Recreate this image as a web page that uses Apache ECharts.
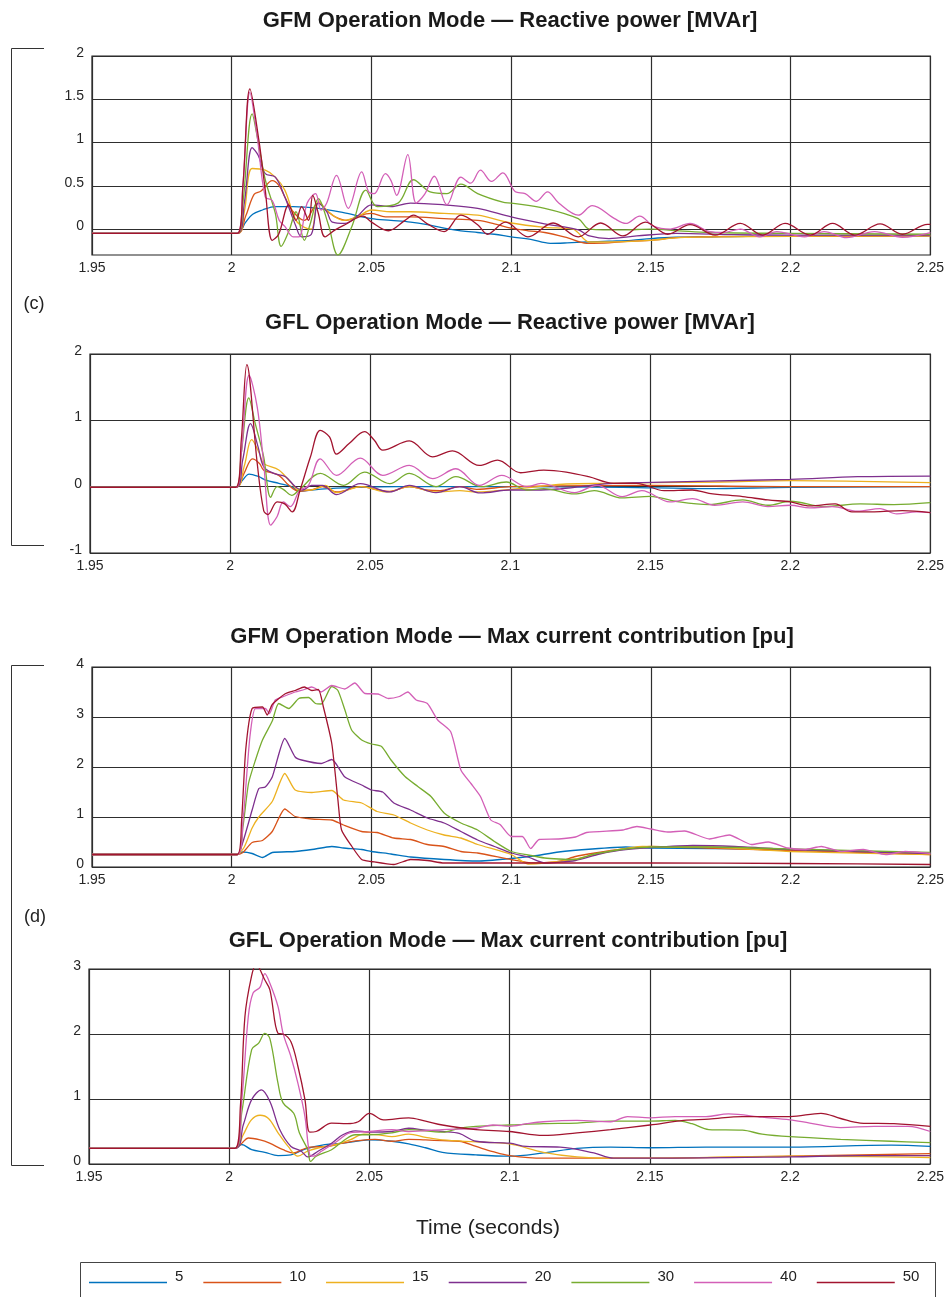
<!DOCTYPE html>
<html>
<head>
<meta charset="utf-8">
<script src="https://cdn.jsdelivr.net/npm/echarts@6/dist/echarts.min.js"></script>
<style>html,body{margin:0;padding:0;background:#fff}#c{width:947px;height:1297px}</style>
</head>
<body>
<div id="c"></div>
<script>
// ---------- categories / ticks ----------
const seriesNames = ['5', '10', '15', '20', '30', '40', '50'];
const xTicks = [1.95, 2, 2.05, 2.1, 2.15, 2.2, 2.25];
const yTicksGfmQ = [0, 0.5, 1, 1.5, 2];
const yTicksGflQ = [-1, 0, 1, 2];
const yTicksGfmI = [0, 1, 2, 3, 4];
const yTicksGflI = [0, 1, 2, 3];

// ---------- GFM reactive power [MVAr] ----------
const gfmQ5 = [[1.95,-0.05],[2.002,-0.05],[2.005,0.08],[2.0075,0.17],[2.011,0.22],[2.0156,0.26],[2.022,0.26],[2.031,0.24],[2.04,0.19],[2.05,0.12],[2.057,0.1],[2.064,0.08],[2.07,0.05],[2.076,0.01],[2.082,-0.02],[2.088,-0.04],[2.094,-0.06],[2.1,-0.09],[2.107,-0.12],[2.114,-0.165],[2.12,-0.16],[2.127,-0.15],[2.135,-0.14],[2.143,-0.13],[2.15,-0.11],[2.159,-0.095],[2.171,-0.09],[2.185,-0.085],[2.2,-0.085],[2.225,-0.08],[2.25,-0.08]];
const gfmQ10 = [[1.95,-0.05],[2.002,-0.05],[2.005,0.15],[2.008,0.4],[2.0105,0.44],[2.0145,0.56],[2.017,0.5],[2.019,0.37],[2.022,0.2],[2.026,0.1],[2.031,0.3],[2.0345,0.2],[2.037,0.14],[2.041,0.1],[2.046,0.16],[2.05,0.18],[2.055,0.14],[2.064,0.14],[2.076,0.12],[2.088,0.1],[2.094,0.06],[2.1,0.01],[2.106,-0.02],[2.112,-0.04],[2.12,-0.1],[2.127,-0.165],[2.135,-0.16],[2.143,-0.14],[2.15,-0.13],[2.159,-0.1],[2.17,-0.09],[2.185,-0.085],[2.2,-0.085],[2.25,-0.08]];
const gfmQ15 = [[1.95,-0.05],[2.002,-0.05],[2.0045,0.2],[2.0073,0.7],[2.012,0.68],[2.0156,0.6],[2.019,0.45],[2.023,0.1],[2.026,0.02],[2.0285,0.0],[2.031,0.32],[2.0346,0.2],[2.04,0.1],[2.045,0.14],[2.05,0.22],[2.057,0.2],[2.064,0.2],[2.076,0.18],[2.088,0.16],[2.1,0.07],[2.112,0.02],[2.122,0.0],[2.128,-0.15],[2.135,-0.15],[2.15,-0.13],[2.16,-0.1],[2.171,-0.09],[2.2,-0.085],[2.25,-0.08]];
const gfmQ20 = [[1.95,-0.05],[2.002,-0.05],[2.0045,0.3],[2.0073,0.94],[2.0095,0.85],[2.012,0.64],[2.0156,0.6],[2.019,0.37],[2.023,0.03],[2.025,-0.09],[2.0285,-0.06],[2.031,0.3],[2.034,0.2],[2.036,0.08],[2.0405,0.065],[2.045,0.15],[2.05,0.28],[2.057,0.26],[2.064,0.3],[2.076,0.28],[2.088,0.24],[2.1,0.14],[2.112,0.06],[2.124,-0.01],[2.128,-0.08],[2.135,-0.11],[2.145,-0.08],[2.159,-0.05],[2.18,-0.065],[2.2,-0.07],[2.25,-0.07]];
const gfmQ30 = [[1.95,-0.05],[2.002,-0.05],[2.004,0.3],[2.0073,1.33],[2.0095,1.0],[2.012,0.57],[2.0156,0.18],[2.0177,-0.2],[2.0205,-0.02],[2.023,0.2],[2.026,-0.13],[2.028,0.05],[2.031,0.35],[2.0346,0.05],[2.038,-0.3],[2.043,0.03],[2.048,0.45],[2.052,0.26],[2.0595,0.3],[2.065,0.57],[2.071,0.43],[2.077,0.41],[2.082,0.52],[2.088,0.41],[2.097,0.31],[2.1,0.3],[2.112,0.24],[2.124,0.12],[2.128,0.0],[2.14,-0.01],[2.15,0.0],[2.16,-0.02],[2.171,-0.04],[2.2,-0.05],[2.25,-0.06]];
const gfmQ40 = [[1.95,-0.05],[2.002,-0.05],[2.004,0.5],[2.0065,1.58],[2.009,1.1],[2.012,0.37],[2.0145,0.33],[2.017,0.1],[2.019,0.03],[2.022,-0.09],[2.024,-0.09],[2.027,0.3],[2.03,0.41],[2.032,0.22],[2.034,0.3],[2.0375,0.62],[2.0417,0.24],[2.0465,0.66],[2.049,0.43],[2.051,0.41],[2.055,0.64],[2.057,0.56],[2.059,0.39],[2.063,0.86],[2.066,0.3],[2.069,0.4],[2.0725,0.61],[2.077,0.28],[2.082,0.6],[2.0855,0.53],[2.089,0.68],[2.093,0.55],[2.097,0.65],[2.1015,0.43],[2.105,0.41],[2.109,0.32],[2.113,0.43],[2.117,0.3],[2.124,0.16],[2.129,0.27],[2.137,0.12],[2.141,0.065],[2.146,0.15],[2.151,0.03],[2.157,0.0],[2.164,0.065],[2.171,-0.03],[2.176,-0.04],[2.182,0.0],[2.189,-0.09],[2.195,-0.03],[2.205,-0.09],[2.212,-0.03],[2.22,-0.1],[2.23,-0.03],[2.24,-0.095],[2.25,-0.04]];
const gfmQ50 = [[1.95,-0.05],[2.002,-0.05],[2.004,0.5],[2.0065,1.62],[2.0097,1.03],[2.012,0.45],[2.0145,-0.13],[2.0168,-0.06],[2.0204,0.28],[2.023,0.1],[2.025,0.26],[2.0275,0.1],[2.029,0.39],[2.031,0.18],[2.0334,-0.09],[2.037,-0.01],[2.0405,0.05],[2.047,0.15],[2.05,0.08],[2.056,-0.02],[2.062,0.1],[2.065,0.16],[2.07,0.06],[2.076,-0.03],[2.082,0.16],[2.088,0.05],[2.0915,-0.06],[2.098,0.08],[2.106,-0.09],[2.115,0.07],[2.124,-0.09],[2.132,0.07],[2.14,-0.08],[2.148,0.08],[2.156,-0.06],[2.164,0.05],[2.173,-0.07],[2.182,0.065],[2.19,-0.07],[2.198,0.065],[2.207,-0.07],[2.215,0.065],[2.223,-0.07],[2.232,0.06],[2.24,-0.06],[2.249,0.055],[2.25,0.055]];

// ---------- GFL reactive power [MVAr] ----------
const gflQ5 = [[1.95,-0.01],[2.002,-0.01],[2.0045,0.1],[2.0068,0.19],[2.0103,0.15],[2.0127,0.1],[2.0174,0.05],[2.022,0.0],[2.0245,-0.07],[2.029,-0.05],[2.035,-0.03],[2.045,-0.01],[2.06,0.0],[2.1,0.0],[2.14,-0.01],[2.17,-0.03],[2.2,-0.01],[2.25,0.0]];
const gflQ10 = [[1.95,-0.01],[2.002,-0.01],[2.005,0.2],[2.008,0.42],[2.0105,0.35],[2.012,0.25],[2.0174,0.17],[2.021,0.02],[2.0245,-0.07],[2.029,-0.05],[2.033,0.0],[2.038,-0.08],[2.0465,0.0],[2.052,-0.04],[2.057,-0.07],[2.064,0.0],[2.07,-0.05],[2.075,-0.06],[2.082,0.0],[2.088,-0.04],[2.1,0.0],[2.15,0.02],[2.2,0.0],[2.25,0.0]];
const gflQ15 = [[1.95,-0.01],[2.002,-0.01],[2.005,0.3],[2.0077,0.71],[2.0105,0.5],[2.012,0.35],[2.0174,0.25],[2.022,0.05],[2.0245,-0.05],[2.029,-0.05],[2.034,0.02],[2.038,-0.09],[2.047,0.0],[2.056,-0.08],[2.064,0.0],[2.0735,-0.08],[2.082,-0.06],[2.088,-0.08],[2.1,-0.04],[2.11,0.0],[2.12,0.04],[2.135,0.05],[2.15,0.06],[2.175,0.07],[2.2,0.09],[2.225,0.08],[2.25,0.06]];
const gflQ20 = [[1.95,-0.01],[2.002,-0.01],[2.0045,0.4],[2.0073,0.95],[2.01,0.6],[2.012,0.3],[2.0156,0.2],[2.0198,0.15],[2.0233,0.0],[2.026,-0.05],[2.029,0.02],[2.033,0.02],[2.038,-0.12],[2.0465,0.045],[2.057,-0.08],[2.064,0.02],[2.0735,-0.09],[2.082,0.0],[2.0893,-0.095],[2.1,-0.05],[2.111,-0.05],[2.123,-0.01],[2.135,0.045],[2.147,0.06],[2.171,0.085],[2.2,0.11],[2.224,0.15],[2.25,0.16]];
const gflQ30 = [[1.95,-0.01],[2.002,-0.01],[2.004,0.5],[2.0067,1.34],[2.009,0.95],[2.012,0.45],[2.0145,-0.16],[2.0168,0.0],[2.019,-0.04],[2.022,-0.13],[2.0251,-0.03],[2.0322,0.2],[2.0405,0.02],[2.048,0.22],[2.057,0.045],[2.064,0.2],[2.0735,0.0],[2.0806,0.15],[2.0898,0.0],[2.0986,0.07],[2.106,-0.05],[2.112,-0.03],[2.123,-0.11],[2.13,-0.06],[2.14,-0.17],[2.15,-0.145],[2.159,-0.22],[2.171,-0.27],[2.183,-0.2],[2.192,-0.28],[2.2,-0.22],[2.212,-0.3],[2.225,-0.26],[2.237,-0.27],[2.25,-0.24]];
const gflQ40 = [[1.95,-0.01],[2.002,-0.01],[2.004,0.5],[2.0068,1.68],[2.0097,1.2],[2.012,0.35],[2.0145,-0.58],[2.0168,-0.45],[2.019,-0.23],[2.0215,-0.3],[2.0248,-0.06],[2.028,0.02],[2.0322,0.42],[2.038,0.17],[2.0465,0.43],[2.0545,0.17],[2.064,0.32],[2.0723,0.12],[2.0806,0.27],[2.089,0.02],[2.097,0.17],[2.106,0.0],[2.111,0.05],[2.123,-0.09],[2.131,0.02],[2.14,-0.15],[2.147,-0.06],[2.157,-0.23],[2.165,-0.18],[2.173,-0.28],[2.183,-0.23],[2.192,-0.3],[2.2,-0.28],[2.207,-0.32],[2.215,-0.3],[2.224,-0.37],[2.232,-0.33],[2.238,-0.41],[2.245,-0.38],[2.25,-0.39]];
const gflQ50 = [[1.95,-0.01],[2.002,-0.01],[2.004,0.7],[2.006,1.84],[2.0097,0.35],[2.012,-0.36],[2.0135,-0.42],[2.0168,-0.23],[2.0195,-0.26],[2.0222,-0.38],[2.025,-0.05],[2.0287,0.45],[2.0322,0.85],[2.0355,0.75],[2.038,0.49],[2.0425,0.65],[2.048,0.83],[2.0515,0.7],[2.0545,0.55],[2.064,0.69],[2.0723,0.45],[2.0794,0.54],[2.089,0.32],[2.0955,0.4],[2.1037,0.21],[2.112,0.25],[2.12,0.22],[2.128,0.15],[2.137,0.05],[2.145,0.05],[2.155,-0.06],[2.165,-0.05],[2.171,-0.1],[2.183,-0.15],[2.192,-0.2],[2.2,-0.23],[2.207,-0.29],[2.216,-0.26],[2.222,-0.38],[2.23,-0.38],[2.24,-0.36],[2.25,-0.39]];

// ---------- GFM max current contribution [pu] ----------
const gfmI5 = [[1.95,0.25],[2.002,0.25],[2.004,0.3],[2.0073,0.27],[2.011,0.19],[2.0145,0.29],[2.0227,0.31],[2.0287,0.35],[2.0358,0.41],[2.04,0.38],[2.0465,0.35],[2.05,0.31],[2.057,0.26],[2.064,0.2],[2.076,0.15],[2.088,0.12],[2.1,0.17],[2.108,0.22],[2.117,0.3],[2.129,0.36],[2.141,0.4],[2.15,0.38],[2.171,0.37],[2.2,0.35],[2.225,0.31],[2.25,0.27]];
const gfmI10 = [[1.95,0.25],[2.002,0.25],[2.004,0.29],[2.0073,0.49],[2.011,0.53],[2.0145,0.71],[2.019,1.16],[2.0227,1.01],[2.0287,0.96],[2.0358,0.94],[2.04,0.84],[2.0465,0.71],[2.052,0.69],[2.058,0.58],[2.064,0.55],[2.07,0.45],[2.076,0.41],[2.082,0.31],[2.088,0.28],[2.1,0.15],[2.108,0.08],[2.117,0.11],[2.123,0.21],[2.13,0.28],[2.14,0.36],[2.15,0.41],[2.17,0.38],[2.2,0.33],[2.25,0.25]];
const gfmI15 = [[1.95,0.25],[2.002,0.25],[2.0045,0.4],[2.0073,0.78],[2.0097,1.0],[2.0145,1.31],[2.019,1.87],[2.0227,1.54],[2.0287,1.49],[2.0358,1.53],[2.04,1.34],[2.0465,1.28],[2.052,1.11],[2.058,1.04],[2.064,0.88],[2.07,0.74],[2.076,0.64],[2.082,0.58],[2.088,0.45],[2.1,0.25],[2.106,0.06],[2.112,0.08],[2.123,0.16],[2.135,0.31],[2.147,0.41],[2.16,0.4],[2.17,0.4],[2.2,0.31],[2.25,0.25]];
const gfmI20 = [[1.95,0.25],[2.002,0.25],[2.004,0.5],[2.0073,1.14],[2.0097,1.57],[2.012,1.6],[2.0145,1.8],[2.019,2.57],[2.0227,2.2],[2.025,2.14],[2.032,2.07],[2.0358,2.15],[2.0405,1.8],[2.0465,1.64],[2.05,1.54],[2.054,1.5],[2.058,1.28],[2.064,1.14],[2.07,0.98],[2.076,0.88],[2.082,0.71],[2.088,0.54],[2.094,0.41],[2.1,0.28],[2.106,0.2],[2.112,0.08],[2.123,0.13],[2.133,0.28],[2.141,0.35],[2.15,0.39],[2.165,0.43],[2.18,0.41],[2.2,0.35],[2.25,0.27]];
const gfmI30 = [[1.95,0.25],[2.002,0.25],[2.004,0.8],[2.006,1.67],[2.0085,2.14],[2.011,2.54],[2.0145,2.92],[2.0168,3.27],[2.0204,3.17],[2.024,3.37],[2.0275,3.39],[2.03,3.27],[2.032,3.26],[2.0358,3.61],[2.038,3.53],[2.0405,3.14],[2.0429,2.74],[2.0465,2.54],[2.05,2.46],[2.0536,2.41],[2.057,2.14],[2.062,1.81],[2.0666,1.61],[2.0713,1.41],[2.076,1.08],[2.082,0.88],[2.088,0.74],[2.094,0.51],[2.1,0.31],[2.106,0.24],[2.112,0.18],[2.117,0.16],[2.123,0.15],[2.129,0.25],[2.135,0.31],[2.141,0.36],[2.15,0.4],[2.17,0.4],[2.2,0.36],[2.25,0.29]];
const gfmI40 = [[1.95,0.25],[2.002,0.25],[2.004,0.9],[2.0065,2.6],[2.0085,3.17],[2.012,3.17],[2.0135,3.07],[2.0156,3.34],[2.019,3.42],[2.0227,3.5],[2.026,3.55],[2.0285,3.6],[2.03,3.57],[2.032,3.5],[2.0358,3.63],[2.0405,3.56],[2.044,3.68],[2.0477,3.47],[2.0524,3.46],[2.056,3.37],[2.06,3.41],[2.063,3.5],[2.066,3.34],[2.07,3.27],[2.0737,2.94],[2.0784,2.7],[2.082,1.94],[2.0856,1.67],[2.089,1.41],[2.0927,0.94],[2.096,0.85],[2.1,0.61],[2.104,0.61],[2.107,0.37],[2.11,0.55],[2.117,0.56],[2.123,0.6],[2.127,0.69],[2.14,0.74],[2.145,0.81],[2.15,0.76],[2.156,0.7],[2.162,0.72],[2.171,0.56],[2.178,0.64],[2.186,0.45],[2.192,0.5],[2.199,0.38],[2.205,0.35],[2.211,0.41],[2.218,0.31],[2.226,0.35],[2.234,0.25],[2.241,0.31],[2.25,0.27]];
const gfmI50 = [[1.95,0.25],[2.002,0.25],[2.0035,0.9],[2.005,2.34],[2.0073,3.17],[2.011,3.2],[2.0127,3.04],[2.0145,3.25],[2.019,3.46],[2.0227,3.53],[2.026,3.6],[2.0287,3.53],[2.031,3.55],[2.0328,3.2],[2.0358,2.47],[2.038,1.34],[2.0393,0.74],[2.043,0.41],[2.0465,0.15],[2.05,0.11],[2.058,0.05],[2.064,0.15],[2.07,0.13],[2.076,0.08],[2.1,0.08],[2.15,0.08],[2.2,0.07],[2.25,0.05]];

// ---------- GFL max current contribution [pu] ----------
const gflI5 = [[1.95,0.24],[2.002,0.24],[2.0044,0.3],[2.008,0.22],[2.0127,0.18],[2.0174,0.13],[2.022,0.14],[2.027,0.23],[2.0318,0.28],[2.0365,0.31],[2.0405,0.32],[2.047,0.36],[2.05,0.37],[2.058,0.35],[2.064,0.31],[2.07,0.25],[2.076,0.18],[2.088,0.14],[2.1,0.12],[2.112,0.17],[2.124,0.24],[2.136,0.26],[2.15,0.25],[2.17,0.26],[2.2,0.26],[2.236,0.29],[2.25,0.27]];
const gflI10 = [[1.95,0.24],[2.002,0.24],[2.0045,0.32],[2.0068,0.4],[2.011,0.37],[2.0144,0.32],[2.0192,0.22],[2.023,0.17],[2.026,0.22],[2.0287,0.26],[2.035,0.27],[2.0405,0.32],[2.046,0.36],[2.052,0.38],[2.058,0.35],[2.064,0.38],[2.07,0.37],[2.076,0.36],[2.082,0.35],[2.088,0.27],[2.094,0.19],[2.1,0.13],[2.112,0.09],[2.125,0.09],[2.15,0.09],[2.2,0.12],[2.25,0.16]];
const gflI15 = [[1.95,0.24],[2.002,0.24],[2.005,0.45],[2.0079,0.68],[2.011,0.75],[2.014,0.7],[2.0174,0.48],[2.021,0.27],[2.0245,0.12],[2.028,0.2],[2.032,0.25],[2.038,0.3],[2.043,0.37],[2.048,0.46],[2.053,0.45],[2.058,0.42],[2.064,0.46],[2.07,0.41],[2.076,0.37],[2.088,0.34],[2.1,0.31],[2.112,0.18],[2.124,0.11],[2.136,0.09],[2.15,0.09],[2.2,0.12],[2.25,0.1]];
const gflI20 = [[1.95,0.24],[2.002,0.24],[2.005,0.6],[2.008,0.99],[2.0115,1.14],[2.0145,0.96],[2.018,0.53],[2.022,0.27],[2.0256,0.2],[2.028,0.11],[2.0318,0.2],[2.0365,0.32],[2.0405,0.45],[2.045,0.51],[2.05,0.49],[2.058,0.5],[2.064,0.55],[2.07,0.52],[2.076,0.5],[2.082,0.47],[2.088,0.35],[2.1,0.32],[2.106,0.27],[2.118,0.26],[2.13,0.17],[2.137,0.09],[2.15,0.09],[2.2,0.11],[2.225,0.13],[2.25,0.13]];
const gflI30 = [[1.95,0.24],[2.002,0.24],[2.0045,0.8],[2.008,1.76],[2.0105,1.86],[2.0127,2.01],[2.0145,1.93],[2.0174,1.24],[2.0192,0.94],[2.023,0.78],[2.025,0.48],[2.028,0.22],[2.029,0.04],[2.031,0.12],[2.0365,0.22],[2.0405,0.35],[2.045,0.45],[2.05,0.45],[2.058,0.48],[2.064,0.53],[2.076,0.49],[2.082,0.55],[2.088,0.58],[2.1,0.6],[2.112,0.62],[2.124,0.63],[2.136,0.66],[2.15,0.66],[2.159,0.67],[2.165,0.62],[2.171,0.53],[2.183,0.52],[2.19,0.46],[2.2,0.42],[2.218,0.38],[2.236,0.35],[2.25,0.33]];
const gflI40 = [[1.95,0.24],[2.002,0.24],[2.0045,1.0],[2.0068,2.27],[2.0085,2.63],[2.011,2.72],[2.0127,2.93],[2.0145,2.78],[2.0174,2.42],[2.0192,2.01],[2.022,1.65],[2.0245,1.24],[2.027,0.73],[2.0287,0.14],[2.03,0.12],[2.033,0.2],[2.0385,0.35],[2.043,0.48],[2.05,0.5],[2.058,0.53],[2.064,0.5],[2.076,0.53],[2.088,0.55],[2.094,0.6],[2.1,0.58],[2.106,0.62],[2.112,0.65],[2.124,0.67],[2.136,0.65],[2.142,0.73],[2.15,0.71],[2.159,0.73],[2.17,0.73],[2.178,0.77],[2.19,0.72],[2.2,0.68],[2.207,0.63],[2.218,0.56],[2.23,0.58],[2.242,0.58],[2.25,0.5]];
const gflI50 = [[1.95,0.24],[2.002,0.24],[2.004,0.9],[2.0056,2.27],[2.0079,2.88],[2.0096,3.07],[2.0127,2.83],[2.0145,2.68],[2.0174,2.01],[2.0192,2.0],[2.022,1.88],[2.0245,1.5],[2.027,0.99],[2.0287,0.49],[2.031,0.5],[2.0365,0.63],[2.042,0.62],[2.046,0.65],[2.05,0.78],[2.055,0.68],[2.064,0.71],[2.07,0.66],[2.076,0.6],[2.088,0.53],[2.1,0.5],[2.112,0.44],[2.124,0.48],[2.136,0.53],[2.15,0.6],[2.162,0.67],[2.171,0.69],[2.183,0.73],[2.2,0.73],[2.211,0.78],[2.218,0.7],[2.225,0.63],[2.237,0.62],[2.25,0.58]];

// ---------- assembly ----------
const palette = ['#0072BD', '#D95319', '#EDB120', '#7E2F8E', '#77AC30', '#D35FB7', '#A2142F'];
const panels = [
  [gfmQ5, gfmQ10, gfmQ15, gfmQ20, gfmQ30, gfmQ40, gfmQ50],
  [gflQ5, gflQ10, gflQ15, gflQ20, gflQ30, gflQ40, gflQ50],
  [gfmI5, gfmI10, gfmI15, gfmI20, gfmI30, gfmI40, gfmI50],
  [gflI5, gflI10, gflI15, gflI20, gflI30, gflI40, gflI50]
];
const yRanges = [[-0.3, 2, yTicksGfmQ], [-1, 2, yTicksGflQ], [0, 4, yTicksGfmI], [0, 3, yTicksGflI]];
const grids = [
  {left: 92, top: 56, width: 844, height: 199},
  {left: 90, top: 354, width: 846, height: 199},
  {left: 92, top: 667, width: 844, height: 200},
  {left: 89, top: 969, width: 847, height: 195}
];
const FONT = 'Liberation Sans, Arial, sans-serif';
const gridLine = {show: true, lineStyle: {color: '#2e2e2e', width: 1.2}};

const option = {
  animation: false,
  backgroundColor: '#fff',
  color: palette,
  grid: grids.map(g => Object.assign({show: true, borderColor: '#222', borderWidth: 1.2, backgroundColor: 'transparent'}, g)),
  xAxis: grids.map((g, i) => ({
    type: 'value', gridIndex: i, min: 1.95, max: 2.25,
    axisLine: {show: false}, axisTick: {show: false, customValues: xTicks},
    axisLabel: {customValues: xTicks, margin: 6, fontSize: 14, color: '#262626', fontFamily: FONT, showMinLabel: true, showMaxLabel: true},
    splitLine: gridLine
  })),
  yAxis: yRanges.map((r, i) => ({
    type: 'value', gridIndex: i, min: r[0], max: r[1],
    axisLine: {show: false}, axisTick: {show: false, customValues: r[2]},
    axisLabel: {customValues: r[2], margin: 8, fontSize: 14, color: '#262626', fontFamily: FONT, verticalAlign: 'bottom', lineHeight: 6, showMinLabel: true, showMaxLabel: true},
    splitLine: gridLine
  })),
  legend: {
    data: seriesNames, left: 89, top: 1269.5, orient: 'horizontal',
    icon: 'rect', itemWidth: 78, itemHeight: 1.6, itemGap: 20, padding: 0,
    formatter: name => name + '\n ',
    textStyle: {fontSize: 15, lineHeight: 11, color: '#222', fontFamily: FONT, padding: [0, 0, 0, 3]},
    selectedMode: false
  },
  series: [],
  graphic: []
};

const titles = [
  ['GFM Operation Mode — Reactive power [MVAr]', 510, 21],
  ['GFL Operation Mode — Reactive power [MVAr]', 510, 323],
  ['GFM Operation Mode — Max current contribution [pu]', 512, 637],
  ['GFL Operation Mode — Max current contribution [pu]', 508, 941]
];
titles.forEach(t => option.graphic.push({
  type: 'text', x: t[1], y: t[2], silent: true,
  style: {text: t[0], font: 'bold 22px ' + FONT, fill: '#1a1a1a', align: 'center', verticalAlign: 'middle'}
}));
option.graphic.push(
  {type: 'text', x: 34, y: 304, style: {text: '(c)', font: '18px ' + FONT, fill: '#222', align: 'center', verticalAlign: 'middle'}},
  {type: 'text', x: 35, y: 917, style: {text: '(d)', font: '18px ' + FONT, fill: '#222', align: 'center', verticalAlign: 'middle'}},
  {type: 'polyline', shape: {points: [[44, 48.5], [11.5, 48.5], [11.5, 545.5], [44, 545.5]]}, style: {stroke: '#333', lineWidth: 1, fill: null}},
  {type: 'polyline', shape: {points: [[44, 665.5], [11.5, 665.5], [11.5, 1165.5], [44, 1165.5]]}, style: {stroke: '#333', lineWidth: 1, fill: null}},
  {type: 'text', x: 488, y: 1228, style: {text: 'Time (seconds)', font: '21px ' + FONT, fill: '#222', align: 'center', verticalAlign: 'middle'}},
  {type: 'rect', shape: {x: 80.5, y: 1262.5, width: 855, height: 60}, style: {stroke: '#444', lineWidth: 1, fill: null}, z: -1}
);

panels.forEach((arrs, p) => {
  arrs.forEach((d, k) => {
    option.series.push({
      type: 'line', name: seriesNames[k], xAxisIndex: p, yAxisIndex: p,
      data: d, symbol: 'none', showSymbol: false, smooth: p === 2 ? 0.2 : 0.35,
      lineStyle: {width: 1.3, color: palette[k]}, itemStyle: {color: palette[k]},
      emphasis: {disabled: true}
    });
  });
});

const chart = echarts.init(document.getElementById('c'), null, {renderer: 'canvas'});
chart.setOption(option);
</script>
</body>
</html>
